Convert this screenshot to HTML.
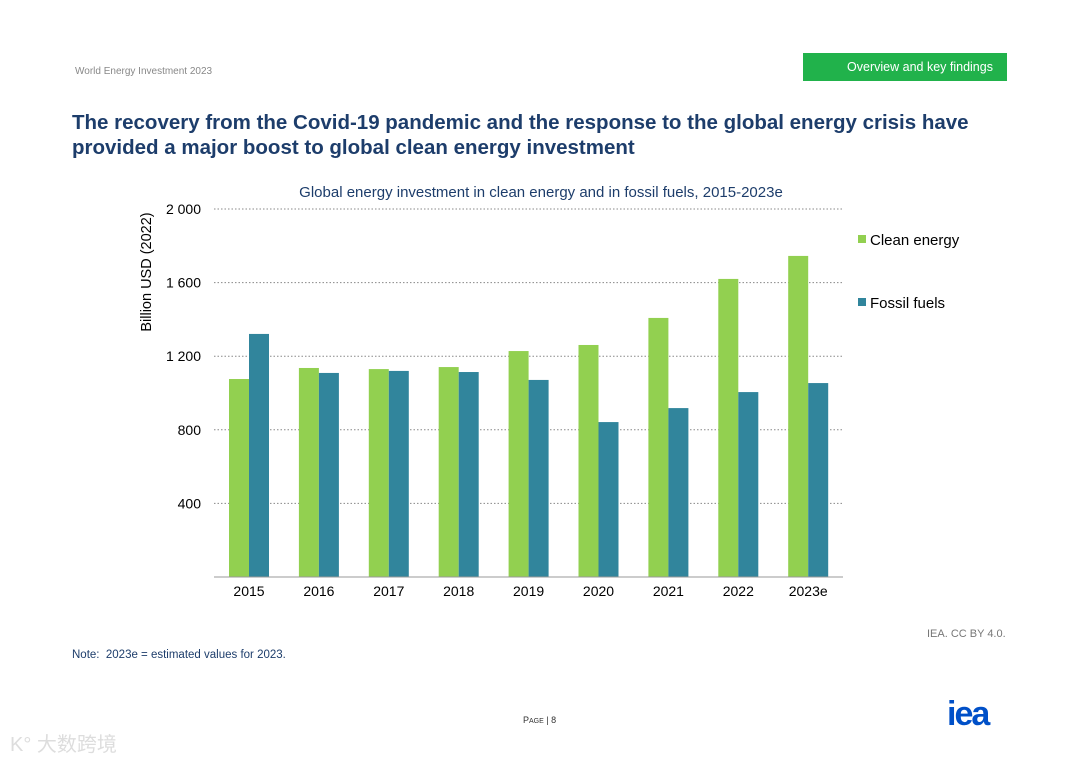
<!DOCTYPE html>
<html><head><meta charset="utf-8"><style>
body{margin:0;width:1080px;height:763px;background:#fff;font-family:"Liberation Sans","Noto Sans CJK SC",sans-serif;position:relative;overflow:hidden}
.a{position:absolute}
</style></head><body>
<div class="a" style="left:75px;top:66px;font-size:10px;color:#888">World Energy Investment 2023</div>
<div class="a" style="left:803px;top:53px;width:204px;height:28px;background:#21b24b;color:#fff;font-size:12.5px;line-height:28px;text-align:center;padding-left:30px;box-sizing:border-box">Overview and key findings</div>
<div class="a" style="left:72px;top:110px;font-size:20.5px;font-weight:bold;color:#1d3d6b;line-height:25px">The recovery from the Covid-19 pandemic and the response to the global energy crisis have<br>provided a major boost to global clean energy investment</div>
<svg class="a" style="left:0;top:0" width="1080" height="763">
<text x="541" y="197" text-anchor="middle" font-size="15" fill="#1d3d6b">Global energy investment in clean energy and in fossil fuels, 2015-2023e</text>
<text transform="translate(151,272) rotate(-90)" text-anchor="middle" font-size="14.5" fill="#000">Billion USD (2022)</text>
<g id="grid"></g><g id="bars"></g><g id="xl"></g>
<line x1="214" x2="843" y1="577" y2="577" stroke="#999"/>
<rect x="858" y="235" width="8" height="8" fill="#92d050"/>
<text x="870" y="245" font-size="15">Clean energy</text>
<rect x="858" y="298" width="8" height="8" fill="#31859c"/>
<text x="870" y="308" font-size="15">Fossil fuels</text>
</svg>
<div class="a" style="left:927px;top:628px;font-size:11px;color:#777">IEA. CC BY 4.0.</div>
<div class="a" style="left:72px;top:649px;font-size:11.5px;color:#1d3d6b">Note:&nbsp; 2023e = estimated values for 2023.</div>
<div class="a" style="left:523px;top:715px;font-size:9px;color:#333">P<span style="font-size:7px">AGE</span> | 8</div>
<div class="a" style="left:947px;top:697px;font-size:34px;font-weight:bold;color:#0050c8;letter-spacing:-2px;line-height:34px">iea</div>
<div class="a" style="left:10px;top:728px;font-size:20px;color:#ddd">K° 大数跨境</div>
<script>
const categories=["2015","2016","2017","2018","2019","2020","2021","2022","2023e"];
const clean=[1076,1136,1130,1141,1228,1261,1408,1620,1745];
const fossil=[1321,1109,1120,1114,1071,842,918,1005,1054];
const ticks=[400,800,1200,1600,2000];
const tickLabels=["400","800","1 200","1 600","2 000"];
const NS="http://www.w3.org/2000/svg";
const y=v=>577-v*0.184;
const x=i=>249+i*69.9;
function mk(t,a,p){const e=document.createElementNS(NS,t);for(const k in a)e.setAttribute(k,a[k]);p.appendChild(e);return e;}
const g=document.getElementById('grid'),b=document.getElementById('bars'),xl=document.getElementById('xl');
ticks.forEach((t,i)=>{
 const l=mk('line',{x1:214,x2:843,y1:y(t),y2:y(t),stroke:'#888','stroke-dasharray':'1.5 2'},g);
 
 
 const tx=mk('text',{x:201,y:y(t)+5,'text-anchor':'end','font-size':14},g);
 tx.textContent=tickLabels[i];
 
 
});
categories.forEach((c,i)=>{
 const r1=mk('rect',{x:x(i)-20,y:y(clean[i]),width:20,height:577-y(clean[i]),fill:'#92d050'},b);
 
 
 const r2=mk('rect',{x:x(i),y:y(fossil[i]),width:20,height:577-y(fossil[i]),fill:'#31859c'},b);
 
 
 const t=mk('text',{x:x(i),y:596,'text-anchor':'middle','font-size':14},xl);
 t.textContent=c;
 
 
});
</script>
</body></html>
